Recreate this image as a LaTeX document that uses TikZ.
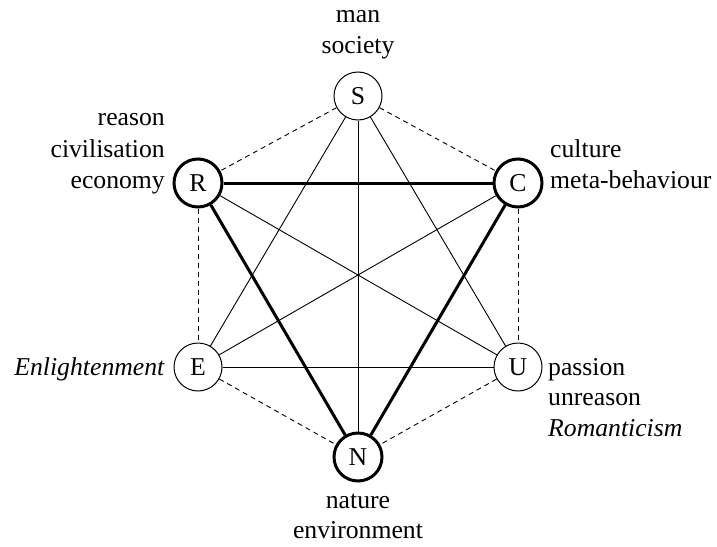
\documentclass[tikz,border=0pt]{standalone}
\usepackage{fontspec}
\setmainfont{Liberation Serif}
\begin{document}
\begin{tikzpicture}[x=1pt,y=-1pt,
  font=\fontsize{25.7}{31}\selectfont,
  vtx/.style={circle,draw,line width=1pt,minimum size=48pt,inner sep=0pt},
  vtxbold/.style={vtx,line width=3pt},
  lbl/.style={inner sep=0pt},
  thinline/.style={line width=0.9pt},
  boldline/.style={line width=3pt},
  hexline/.style={line width=0.9pt,dash pattern=on 5pt off 4pt}]
\useasboundingbox (0,0) rectangle (717,546);
\node[vtx] (S) at (358,96) {S};
\node[vtxbold] (R) at (198,183) {R};
\node[vtxbold] (C) at (518,183) {C};
\node[vtx] (E) at (198,367) {E};
\node[vtx] (U) at (518,367) {U};
\node[vtxbold] (N) at (358,457) {N};
% hexagon (dashed)
\draw[hexline] (S) -- (R);
\draw[hexline] (S) -- (C);
\draw[hexline] (R) -- (E);
\draw[hexline] (C) -- (U);
\draw[hexline] (E) -- (N);
\draw[hexline] (U) -- (N);
% thin diagonals
\draw[thinline] (S) -- (E);
\draw[thinline] (S) -- (N);
\draw[thinline] (S) -- (U);
\draw[thinline] (R) -- (U);
\draw[thinline] (C) -- (E);
\draw[thinline] (E) -- (U);
% bold triangle
\draw[boldline] (R) -- (C);
\draw[boldline] (R) -- (N);
\draw[boldline] (C) -- (N);
% labels
\node[lbl,anchor=base] (s1) at (358,22) {man};
\node[lbl,anchor=base] (s2) at (358,53) {society};
\node[lbl,anchor=base east] (r1) at (165,125) {reason};
\node[lbl,anchor=base east] (r2) at (165,157) {civilisation};
\node[lbl,anchor=base east] (r3) at (165,188) {economy};
\node[lbl,anchor=base west] (c1) at (550,157) {culture};
\node[lbl,anchor=base west] (c2) at (550,188) {meta-behaviour};
\node[lbl,anchor=base east] (e1) at (165,375) {\textit{Enlightenment}};
\node[lbl,anchor=base west] (u1) at (548,375) {passion};
\node[lbl,anchor=base west] (u2) at (548,405.5) {unreason};
\node[lbl,anchor=base west] (u3) at (548,436) {\textit{Romanticism}};
\node[lbl,anchor=base] (n1) at (358,508) {nature};
\node[lbl,anchor=base] (n2) at (358,538) {environment};
\end{tikzpicture}
\end{document}
